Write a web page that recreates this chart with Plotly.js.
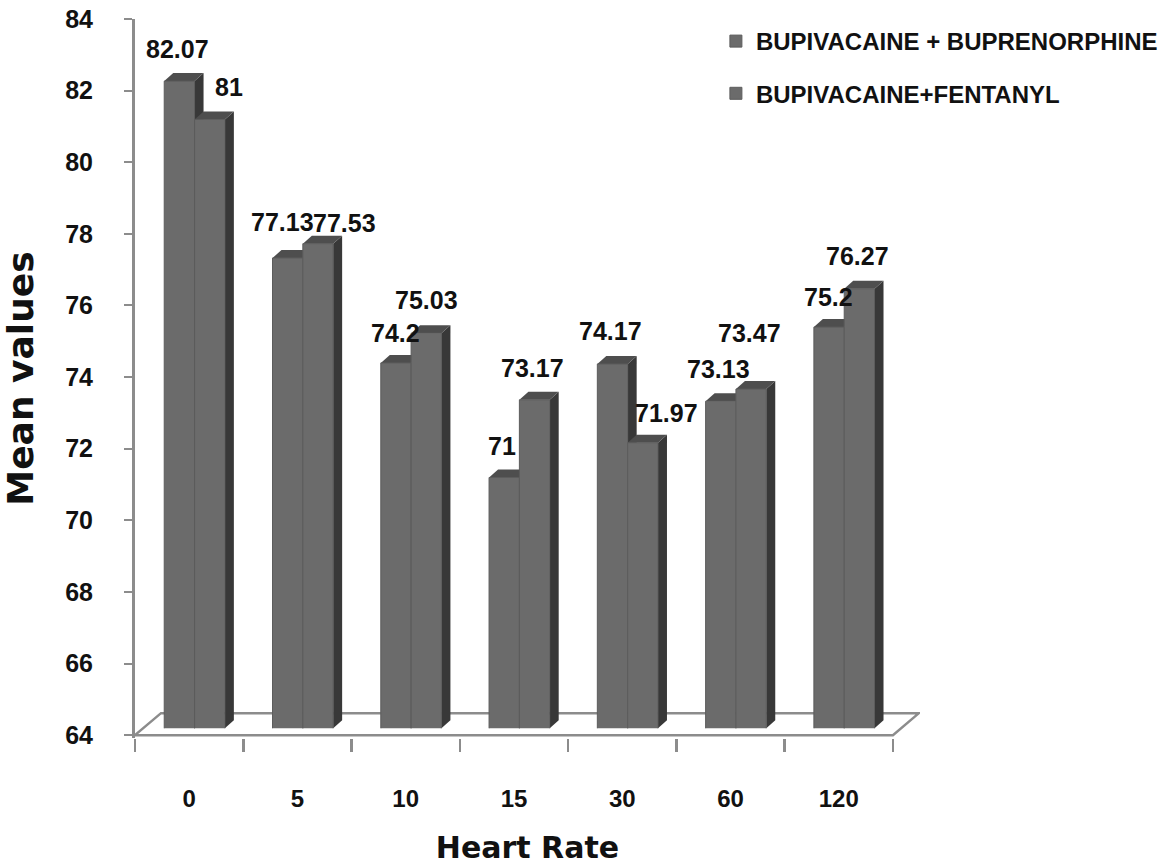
<!DOCTYPE html>
<html>
<head>
<meta charset="utf-8">
<script src="https://cdn.plot.ly/plotly-3.0.1.min.js"></script>
<style>html,body{margin:0;padding:0;background:#fff;}#chart{width:1164px;height:865px;}</style>
</head>
<body>
<div id="chart"></div>
<script>
// ---- data ----
const categories = ['0', '5', '10', '15', '30', '60', '120'];
const seriesNames = ['BUPIVACAINE + BUPRENORPHINE', 'BUPIVACAINE+FENTANYL'];
const bupivacaineBuprenorphine = [82.07, 77.13, 74.2, 71, 74.17, 73.13, 75.2];
const bupivacaineFentanyl = [81, 77.53, 75.03, 73.17, 71.97, 73.47, 76.27];
const yTickVals = [64, 66, 68, 70, 72, 74, 76, 78, 80, 82, 84];
const xTitle = 'Heart Rate';
const yTitle = 'Mean values';

// ---- label nudges (pixels) ----
const labelDx = [[-2, -5, 0, -2, -2, -2, -1], [19, 27, 0, -2, 24, -2, -2]];
const labelDy = [[32, 36, 30, 31, 33, 32, 30], [32, 21, 33, 32, 30, 56, 33]];

// ---- geometry / style ----
const W = 1164, H = 865;
const M = {l: 135, r: 244, t: 19, b: 127, autoexpand: false};
const xRange = [-0.5, 6.75];
const yRange = [63.92, 84];
const plotW = W - M.l - M.r, plotH = H - M.t - M.b;
const pxX = plotW / (xRange[1] - xRange[0]);
const pxY = plotH / (yRange[1] - yRange[0]);
const LIFT = 7;                    // bars sit a few px back on the floor
const y2Dom0 = (pxY * (64 - yRange[0]) + LIFT) / plotH;
const y2Range = [64, yRange[1] - LIFT / pxY];
const BAR_W = 0.28, OFFS = [-0.23, 0.05];
const BDX = 9 / pxX, BDY = 8 / pxY;      // bar depth
const FDX = 26 / pxX, FDY = 22 / pxY;    // floor depth
const FRONT = '#6b6b6b', TOP = '#4e4e4e', SIDE = '#383838', AXIS = '#8c8c8c';
const FONT = 'Liberation Sans, Arial, sans-serif';

const series = [bupivacaineBuprenorphine, bupivacaineFentanyl];

const traces = series.map((vals, s) => ({
  type: 'bar',
  name: seriesNames[s],
  x: categories,
  y: vals,
  yaxis: 'y2',
  width: BAR_W,
  offset: OFFS[s],
  legendgroup: 'g' + s,
  marker: {color: FRONT, line: {color: '#5c5c5c', width: 1}},
  hovertemplate: '%{x}: %{y}<extra>' + seriesNames[s] + '</extra>'
}));

const shapes = [];
// floor
shapes.push({
  type: 'path', xref: 'x', yref: 'y', layer: 'below',
  path: `M${xRange[0]},64 L${xRange[0] + FDX},${64 + FDY} L${categories.length - 0.5 + FDX},${64 + FDY} L${categories.length - 0.5},64 Z`,
  fillcolor: '#ffffff', line: {color: AXIS, width: 2.5}
});
// 3D faces of each bar
categories.forEach((c, i) => {
  series.forEach((vals, s) => {
    const v = vals[i];
    const xl = i + OFFS[s], xr = xl + BAR_W;
    shapes.push({
      type: 'path', xref: 'x', yref: 'y2', layer: 'below',
      path: `M${xr},64 L${xr + BDX},${64 + BDY} L${xr + BDX},${v + BDY} L${xr},${v} Z`,
      fillcolor: SIDE, line: {width: 0}
    });
    shapes.push({
      type: 'path', xref: 'x', yref: 'y2', layer: 'below',
      path: `M${xl},${v} L${xl + BDX},${v + BDY} L${xr + BDX},${v + BDY} L${xr},${v} Z`,
      fillcolor: TOP, line: {width: 0}
    });
  });
});

const annotations = [];
series.forEach((vals, s) => {
  vals.forEach((v, i) => {
    annotations.push({
      x: i + OFFS[s] + BAR_W / 2, xref: 'x',
      y: v, yref: 'y2',
      text: String(v), showarrow: false,
      xanchor: 'center', yanchor: 'middle',
      xshift: labelDx[s][i], yshift: labelDy[s][i],
      font: {family: FONT, size: 25, weight: 700, color: '#111111'}
    });
  });
});

const layout = {
  width: W, height: H,
  margin: M,
  paper_bgcolor: '#ffffff', plot_bgcolor: 'rgba(0,0,0,0)',
  showlegend: true,
  legend: {
    x: 0.74, y: 1.0, xanchor: 'left', yanchor: 'top',
    traceorder: 'grouped', tracegroupgap: 18,
    font: {family: FONT, size: 24, weight: 700, color: '#111111'},
    bgcolor: 'rgba(0,0,0,0)'
  },
  xaxis: {
    type: 'category', range: xRange, automargin: false,
    showgrid: false, zeroline: false, showline: false,
    ticks: 'outside', tickson: 'boundaries', ticklen: 13, tickwidth: 2.5, tickcolor: AXIS,
    ticklabelstandoff: 44,
    tickfont: {family: FONT, size: 24, weight: 700, color: '#111111'},
    title: {text: xTitle, standoff: 36, font: {family: 'DejaVu Sans, sans-serif', size: 30, weight: 700, color: '#111111'}}
  },
  yaxis: {
    range: yRange, tickvals: yTickVals, automargin: false,
    showgrid: false, zeroline: false,
    showline: true, linecolor: AXIS, linewidth: 3,
    ticks: 'outside', ticklen: 8, tickwidth: 2, tickcolor: AXIS,
    ticklabelstandoff: 26,
    tickfont: {family: FONT, size: 25, weight: 700, color: '#111111'},
    title: {text: yTitle, standoff: 24, font: {family: 'DejaVu Sans, sans-serif', size: 36, weight: 700, color: '#111111'}}
  },
  yaxis2: {
    domain: [y2Dom0, 1], range: y2Range, anchor: 'x',
    visible: false, showgrid: false, zeroline: false
  },
  shapes: shapes,
  annotations: annotations,
  bargap: 0
};

Plotly.newPlot('chart', traces, layout, {displayModeBar: false, staticPlot: true});
</script>
</body>
</html>
